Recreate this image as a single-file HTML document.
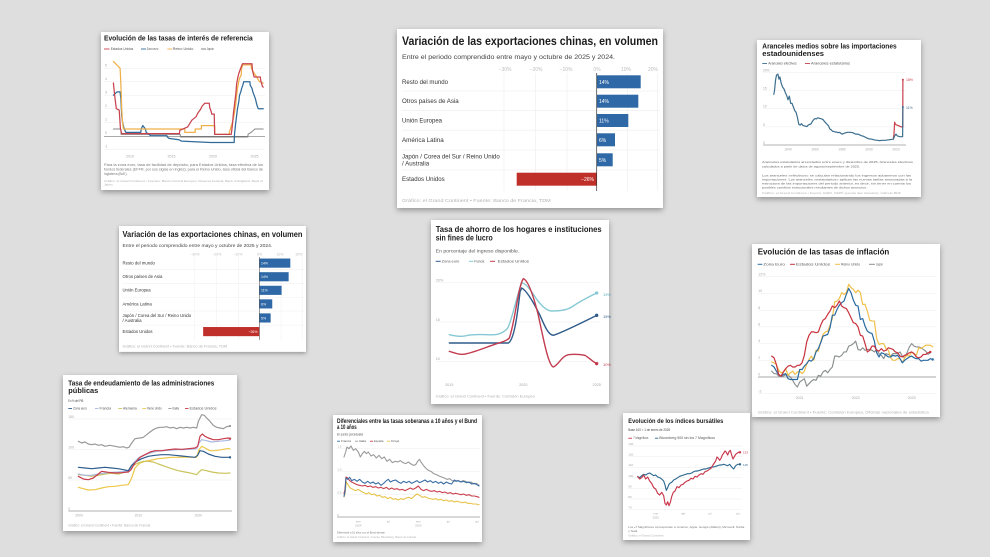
<!DOCTYPE html>
<html><head><meta charset="utf-8">
<style>
html,body{margin:0;padding:0;background:#dedede;}
svg{display:block}
text{font-family:"Liberation Sans",Arial,sans-serif}
.tt{font-weight:bold;fill:#1b1b1b}
.ax{fill:#a8a8a8}
.ft{fill:#b0b0b0}
.lg{fill:#555}
.ns{vector-effect:non-scaling-stroke;fill:none;stroke-linejoin:round;stroke-linecap:round}
.gr line{stroke:#ececec;stroke-width:0.5}
</style></head>
<body>
<svg width="990" height="557" viewBox="0 0 990 557" xmlns="http://www.w3.org/2000/svg">
<defs>
<filter id="sh" x="-10%" y="-10%" width="120%" height="125%">
<feDropShadow dx="0" dy="2.2" stdDeviation="3" flood-color="#000" flood-opacity="0.34"/>
</filter>
</defs>
<rect width="990" height="557" fill="#dedede"/>

<!-- ============ CARD 1 ============ -->
<g>
<rect x="101" y="32" width="168" height="158" fill="#fff" filter="url(#sh)"/>
<text class="tt" x="104" y="40.7" font-size="7" textLength="148.7" lengthAdjust="spacingAndGlyphs">Evolución de las tasas de interés de referencia</text>
<g font-size="3.6" class="lg">
<line x1="104" y1="49" x2="109.5" y2="49" stroke="#c9434f" stroke-width="0.9"/><text x="110.7" y="50.2" textLength="22.6" lengthAdjust="spacingAndGlyphs">Estados Unidos</text>
<line x1="141" y1="49" x2="146" y2="49" stroke="#2f6a9a" stroke-width="0.9"/><text x="146.7" y="50.2" textLength="11.6" lengthAdjust="spacingAndGlyphs">Zona euro</text>
<line x1="167.3" y1="49" x2="172" y2="49" stroke="#efb04a" stroke-width="0.9"/><text x="172.7" y="50.2" textLength="20.6" lengthAdjust="spacingAndGlyphs">Reino Unido</text>
<line x1="201" y1="49" x2="206" y2="49" stroke="#777" stroke-width="0.9"/><text x="206.7" y="50.2" textLength="7.3" lengthAdjust="spacingAndGlyphs">Japón</text>
</g>
<g class="gr">
<line x1="104" y1="68.2" x2="265" y2="68.2"/><line x1="104" y1="81.7" x2="265" y2="81.7"/><line x1="104" y1="95.2" x2="265" y2="95.2"/><line x1="104" y1="108.7" x2="265" y2="108.7"/><line x1="104" y1="122.2" x2="265" y2="122.2"/><line x1="104" y1="149.2" x2="265" y2="149.2"/>
</g>
<line x1="104" y1="136.3" x2="265" y2="136.3" stroke="#555" stroke-width="0.5"/>
<g font-size="3.5" class="ax">
<text x="105" y="66.5">5</text><text x="105" y="80">4</text><text x="105" y="93.5">3</text><text x="105" y="107">2</text><text x="105" y="120.5">1</text><text x="105" y="134">0</text><text x="104.5" y="147.5">-1</text>
</g>
<g font-size="3.6" class="ax" text-anchor="middle">
<text x="130" y="157.3">2010</text><text x="171.5" y="157.3">2015</text><text x="213" y="157.3">2020</text><text x="254.5" y="157.3">2025</text>
</g>
<g transform="matrix(8.3,0,0,-13.5,47,135.7)">
<polyline class="ns" stroke="#888" stroke-width="1" points="8.0,0.5 8.9,0.5 8.92,0.1 16.05,0.1 16.07,-0.1 24.2,-0.1 24.22,0.1 24.6,0.25 25.05,0.5 26.05,0.5"/>
<polyline class="ns" stroke="#2f6a9a" stroke-width="1.25" points="8.0,3.0 8.45,3.25 8.8,3.25 8.9,2.75 9.0,1.5 9.1,1.0 9.3,0.5 9.5,0.25 11.3,0.25 11.35,0.5 11.55,0.75 11.85,0.5 11.95,0.25 12.5,0.0 14.45,0.0 14.5,-0.1 14.7,-0.2 15.9,-0.3 16.2,-0.4 19.7,-0.5 22.55,-0.5 22.58,0.0 22.7,0.75 22.85,1.5 22.95,2.0 23.1,2.5 23.2,3.0 23.35,3.25 23.45,3.5 23.6,3.75 23.7,4.0 24.45,4.0 24.48,3.75 24.7,3.5 24.8,3.25 24.95,3.0 25.1,2.75 25.2,2.5 25.3,2.25 25.45,2.0 26.05,2.0"/>
<polyline class="ns" stroke="#efb04a" stroke-width="1.25" points="8.0,5.5 8.8,5.0 8.85,4.5 8.95,3.0 9.0,2.0 9.1,1.0 9.2,0.5 16.6,0.5 16.6,0.25 17.85,0.25 17.85,0.5 18.6,0.5 18.6,0.75 20.2,0.75 20.22,0.1 21.95,0.1 21.97,0.25 22.1,0.5 22.2,0.75 22.35,1.0 22.45,1.25 22.6,1.75 22.72,2.25 22.85,3.0 22.95,3.5 23.1,4.0 23.2,4.25 23.4,4.5 23.45,5.0 23.6,5.25 24.6,5.25 24.62,5.0 24.85,4.75 25.1,4.5 25.35,4.25 25.6,4.0 26.05,3.9"/>
<polyline class="ns" stroke="#c9434f" stroke-width="1.25" points="8.0,3.9 8.15,3.0 8.35,2.0 8.7,1.9 8.85,0.5 9.0,0.15 15.95,0.15 16.0,0.4 16.95,0.65 17.2,0.9 17.45,1.15 17.95,1.4 18.2,1.7 18.45,1.9 18.7,2.2 19.0,2.4 19.55,2.4 19.6,2.1 19.75,1.85 19.85,1.6 20.15,1.6 20.2,0.1 22.2,0.1 22.25,0.35 22.35,0.85 22.45,1.6 22.6,2.35 22.75,3.1 22.85,3.85 23.0,4.35 23.1,4.6 23.25,4.85 23.4,5.1 23.55,5.33 24.7,5.33 24.75,4.85 24.85,4.6 24.95,4.35 25.7,4.35 25.75,4.1 25.85,3.9 25.95,3.65 26.05,3.6"/>
</g>
<g font-size="3.2" fill="#777">
<text x="104" y="166" textLength="159" lengthAdjust="spacingAndGlyphs">Para la zona euro, tasa de facilidad de depósito; para Estados Unidos, tasa efectiva de los</text>
<text x="104" y="170.4" textLength="159" lengthAdjust="spacingAndGlyphs">fondos federales (EFFR, por sus siglas en inglés); para el Reino Unido, tasa oficial del Banco de</text>
<text x="104" y="174.8">Inglaterra (BoE).</text>
</g>
<g font-size="3.1" class="ft">
<text x="104" y="181.8" textLength="159" lengthAdjust="spacingAndGlyphs">Gráfico: el Grand Continent • Fuentes: Banco Central Europeo, Reserva Federal, Bank of England, Bank of</text>
<text x="104" y="185.6">Japan</text>
</g>
</g>

<!-- ============ CARD 2 ============ -->
<g>
<rect x="397" y="29" width="266" height="179" fill="#fff" filter="url(#sh)"/>
<text class="tt" x="402" y="45" font-size="12" textLength="256" lengthAdjust="spacingAndGlyphs">Variación de las exportaciones chinas, en volumen</text>
<text x="402" y="59" font-size="6.8" fill="#444" textLength="213" lengthAdjust="spacingAndGlyphs">Entre el periodo comprendido entre mayo y octubre de 2025 y 2024.</text>
<g font-size="5" fill="#bdbdbd" text-anchor="middle">
<text x="505" y="71">−30%</text><text x="536" y="71">−20%</text><text x="566" y="71">−10%</text><text x="597" y="71">0%</text><text x="626" y="71">10%</text><text x="653" y="71">20%</text>
</g>
<g stroke="#ececec" stroke-width="0.6">
<line x1="504" y1="73" x2="504" y2="191"/><line x1="535.5" y1="73" x2="535.5" y2="191"/><line x1="567" y1="73" x2="567" y2="191"/><line x1="627.5" y1="73" x2="627.5" y2="191"/><line x1="657.5" y1="73" x2="657.5" y2="191"/>
<line x1="402" y1="91" x2="660" y2="91"/><line x1="402" y1="110.7" x2="660" y2="110.7"/><line x1="402" y1="130.2" x2="660" y2="130.2"/><line x1="402" y1="150" x2="660" y2="150"/><line x1="402" y1="170" x2="660" y2="170"/>
</g>
<g fill="#2e68a6">
<rect x="596.7" y="75.3" width="44" height="13"/><rect x="596.7" y="94.7" width="41.6" height="13"/><rect x="596.7" y="114" width="31.6" height="13"/><rect x="596.7" y="133.3" width="18.3" height="13"/><rect x="596.7" y="153.3" width="16" height="13"/>
</g>
<rect x="516.7" y="172.7" width="80" height="13" fill="#c0302b"/>
<line x1="596.7" y1="73" x2="596.7" y2="191" stroke="#333" stroke-width="0.7"/>
<g font-size="5" fill="#fff">
<text x="599" y="83.8">14%</text><text x="599" y="103.2">14%</text><text x="599" y="122.5">11%</text><text x="599" y="141.8">6%</text><text x="599" y="161.8">5%</text>
<text x="594" y="181.2" text-anchor="end">−26%</text>
</g>
<g font-size="6.2" fill="#333">
<text x="402" y="83.8" textLength="46" lengthAdjust="spacingAndGlyphs">Resto del mundo</text>
<text x="402" y="103.2" textLength="56.7" lengthAdjust="spacingAndGlyphs">Otros países de Asia</text>
<text x="402" y="122.5" textLength="40" lengthAdjust="spacingAndGlyphs">Unión Europea</text>
<text x="402" y="141.8" textLength="41.7" lengthAdjust="spacingAndGlyphs">América Latina</text>
<text x="402" y="158.6" textLength="97.7" lengthAdjust="spacingAndGlyphs">Japón / Corea del Sur / Reino Unido</text>
<text x="402" y="165.6">/ Australia</text>
<text x="402" y="181.2" textLength="42.7" lengthAdjust="spacingAndGlyphs">Estados Unidos</text>
</g>
<text x="402" y="202" font-size="4.8" class="ft" textLength="148.7" lengthAdjust="spacingAndGlyphs">Gráfico: el Grand Continent • Fuente: Banco de Francia, TDM</text>
</g>

<!-- ============ CARD 4 (smaller copy) ============ -->
<g transform="translate(119,226) scale(0.703) translate(-397,-29)">
<rect x="397" y="29" width="266" height="179" fill="#fff" filter="url(#sh)"/>
<text class="tt" x="402" y="45" font-size="12" textLength="256" lengthAdjust="spacingAndGlyphs">Variación de las exportaciones chinas, en volumen</text>
<text x="402" y="59" font-size="6.8" fill="#444" textLength="213" lengthAdjust="spacingAndGlyphs">Entre el periodo comprendido entre mayo y octubre de 2025 y 2024.</text>
<g font-size="5" fill="#bdbdbd" text-anchor="middle">
<text x="505" y="71">−30%</text><text x="536" y="71">−20%</text><text x="566" y="71">−10%</text><text x="597" y="71">0%</text><text x="626" y="71">10%</text><text x="653" y="71">20%</text>
</g>
<g stroke="#ececec" stroke-width="0.6">
<line x1="504" y1="73" x2="504" y2="191"/><line x1="535.5" y1="73" x2="535.5" y2="191"/><line x1="567" y1="73" x2="567" y2="191"/><line x1="627.5" y1="73" x2="627.5" y2="191"/><line x1="657.5" y1="73" x2="657.5" y2="191"/>
<line x1="402" y1="91" x2="660" y2="91"/><line x1="402" y1="110.7" x2="660" y2="110.7"/><line x1="402" y1="130.2" x2="660" y2="130.2"/><line x1="402" y1="150" x2="660" y2="150"/><line x1="402" y1="170" x2="660" y2="170"/>
</g>
<g fill="#2e68a6">
<rect x="596.7" y="75.3" width="44" height="13"/><rect x="596.7" y="94.7" width="41.6" height="13"/><rect x="596.7" y="114" width="31.6" height="13"/><rect x="596.7" y="133.3" width="18.3" height="13"/><rect x="596.7" y="153.3" width="16" height="13"/>
</g>
<rect x="516.7" y="172.7" width="80" height="13" fill="#c0302b"/>
<line x1="596.7" y1="73" x2="596.7" y2="191" stroke="#333" stroke-width="0.7"/>
<g font-size="5" fill="#fff">
<text x="599" y="83.8">14%</text><text x="599" y="103.2">14%</text><text x="599" y="122.5">11%</text><text x="599" y="141.8">6%</text><text x="599" y="161.8">5%</text>
<text x="594" y="181.2" text-anchor="end">−26%</text>
</g>
<g font-size="6.2" fill="#333">
<text x="402" y="83.8" textLength="46" lengthAdjust="spacingAndGlyphs">Resto del mundo</text>
<text x="402" y="103.2" textLength="56.7" lengthAdjust="spacingAndGlyphs">Otros países de Asia</text>
<text x="402" y="122.5" textLength="40" lengthAdjust="spacingAndGlyphs">Unión Europea</text>
<text x="402" y="141.8" textLength="41.7" lengthAdjust="spacingAndGlyphs">América Latina</text>
<text x="402" y="158.6" textLength="97.7" lengthAdjust="spacingAndGlyphs">Japón / Corea del Sur / Reino Unido</text>
<text x="402" y="165.6">/ Australia</text>
<text x="402" y="181.2" textLength="42.7" lengthAdjust="spacingAndGlyphs">Estados Unidos</text>
</g>
<text x="402" y="202" font-size="4.8" class="ft" textLength="148.7" lengthAdjust="spacingAndGlyphs">Gráfico: el Grand Continent • Fuente: Banco de Francia, TDM</text>
</g>

<!-- ============ CARD 3 ============ -->
<g>
<rect x="757" y="40" width="164" height="157" fill="#fff" filter="url(#sh)"/>
<text class="tt" x="762.3" y="48.5" font-size="7.2" textLength="134.4" lengthAdjust="spacingAndGlyphs">Aranceles medios sobre las importaciones</text>
<text class="tt" x="762.3" y="56.2" font-size="7.2" textLength="61.7" lengthAdjust="spacingAndGlyphs">estadounidenses</text>
<g font-size="3.4" class="lg">
<line x1="762.3" y1="63.5" x2="767" y2="63.5" stroke="#3c6e8f" stroke-width="0.9"/><text x="768.3" y="64.6" textLength="28.4" lengthAdjust="spacingAndGlyphs">Aranceles efectivos</text>
<line x1="805" y1="63.5" x2="810" y2="63.5" stroke="#c8404c" stroke-width="0.9"/><text x="811" y="64.6" textLength="39" lengthAdjust="spacingAndGlyphs">Aranceles estatutarios</text>
</g>
<g class="gr">
<line x1="763" y1="72.6" x2="906" y2="72.6"/><line x1="763" y1="90.7" x2="906" y2="90.7"/><line x1="763" y1="108.8" x2="906" y2="108.8"/><line x1="763" y1="126.9" x2="906" y2="126.9"/>
</g>
<line x1="763" y1="145" x2="906" y2="145" stroke="#666" stroke-width="0.5"/>
<g font-size="3.3" class="ax">
<text x="763" y="71.5">20%</text><text x="763" y="89.6">15</text><text x="763" y="107.7">10</text><text x="763" y="125.8">5</text><text x="763" y="143.9">0</text>
</g>
<g font-size="3.3" class="ax" text-anchor="middle">
<text x="788" y="150.3">1940</text><text x="815" y="150.3">1960</text><text x="842" y="150.3">1980</text><text x="869" y="150.3">2000</text><text x="896" y="150.3">2020</text>
</g>
<g transform="matrix(1.35,0,0,-3.62,734,145)">
<polyline class="ns" stroke="#c8404c" stroke-width="1.2" points="118,1.6 118.5,3.0 119,6.3 119.5,5.8 120,5.6 122,5.3 124,5.0 125,5.0 125.1,18"/>
<polyline class="ns" stroke="#3c6e8f" stroke-width="1.2" points="29.5,14 30,15 30.8,18 31.5,19.3 32.5,19.6 33.3,18.2 34,18.8 35,17 36,16 37,15.5 38,14.5 39,13.7 40,12.5 41,13.5 42,11.5 43,11.5 44,10.5 45,9.5 46,9.0 47,7.6 48,5.7 49,5.5 50,5.9 51,5.4 52,5.3 53,5.2 54,5.1 55,5.5 56,5.7 57,5.8 58,6.5 59,7.0 60,7.3 61,7.2 62,7.5 63,7.4 64,7.3 65,7.2 66,7.0 67,6.5 68,6.1 69,5.7 70,5.3 71,4.4 72,4.2 73,3.8 74,3.7 75,3.6 76,3.6 77,3.4 78,3.5 79,3.3 80,3.0 82,3.3 84,3.5 86,3.5 88,3.4 90,3.0 92,3.0 94,2.6 96,2.4 98,2.0 100,1.7 102,1.6 104,1.4 106,1.3 108,1.2 110,1.3 112,1.3 114,1.4 116,1.5 118,1.6 119,2.5 120,3.0 121,2.5 122,2.4 123,2.3 124,2.3 124.9,2.3 125.1,10.5"/>
</g>
<circle cx="902.9" cy="79.8" r="1" fill="#c8404c"/><circle cx="902.9" cy="107" r="1" fill="#3c6e8f"/>
<text x="906" y="81" font-size="3.5" fill="#c8404c">18%</text>
<text x="906" y="109" font-size="3.5" fill="#3c6e8f">11%</text>
<g font-size="3.1" fill="#666">
<text x="762" y="163" textLength="151" lengthAdjust="spacingAndGlyphs">Aranceles estatutarios anunciados entre enero y diciembre de 2025. Aranceles efectivos</text>
<text x="762" y="167.3" textLength="98" lengthAdjust="spacingAndGlyphs">calculados a partir de datos de agosto/septiembre de 2025.</text>
<text x="762" y="176.5" textLength="149" lengthAdjust="spacingAndGlyphs">Los aranceles «efectivos» se calculan relacionando los ingresos aduaneros con las</text>
<text x="762" y="180.5" textLength="150" lengthAdjust="spacingAndGlyphs">importaciones. Los aranceles «estatutarios» aplican las nuevas tarifas anunciadas a la</text>
<text x="762" y="184.5" textLength="149" lengthAdjust="spacingAndGlyphs">estructura de las importaciones del periodo anterior, es decir, sin tener en cuenta los</text>
<text x="762" y="188.5" textLength="105" lengthAdjust="spacingAndGlyphs">posibles cambios estructurales resultantes de dichos anuncios.</text>
</g>
<text x="762" y="194" font-size="3" class="ft" textLength="139" lengthAdjust="spacingAndGlyphs">Gráfico: el Grand Continent • Fuente: ESRI, CEPII (peoria des Veredes), Cálculo BDF</text>
</g>

<!-- ============ CARD 5 ============ -->
<g>
<rect x="431" y="220" width="178" height="184" fill="#fff" filter="url(#sh)"/>
<text class="tt" x="435.7" y="232" font-size="8.5" textLength="166" lengthAdjust="spacingAndGlyphs">Tasa de ahorro de los hogares e instituciones</text>
<text class="tt" x="435.7" y="240.7" font-size="8.5" textLength="57" lengthAdjust="spacingAndGlyphs">sin fines de lucro</text>
<text x="435.7" y="252.3" font-size="4.6" fill="#555" textLength="83.6" lengthAdjust="spacingAndGlyphs">En porcentaje del ingreso disponible.</text>
<g font-size="3.8" class="lg">
<line x1="435.7" y1="261.3" x2="440.7" y2="261.3" stroke="#2f5b8a" stroke-width="1"/><text x="441.7" y="262.6" textLength="17.6" lengthAdjust="spacingAndGlyphs">Zona euro</text>
<line x1="469" y1="261.3" x2="473.3" y2="261.3" stroke="#86c9d4" stroke-width="1"/><text x="474.3" y="262.6" textLength="10" lengthAdjust="spacingAndGlyphs">Francia</text>
<line x1="490" y1="261.3" x2="495" y2="261.3" stroke="#c23b4f" stroke-width="1"/><text x="497.7" y="262.6" textLength="31.3" lengthAdjust="spacingAndGlyphs">Estados Unidos</text>
</g>
<g class="gr">
<line x1="435.7" y1="282.7" x2="600" y2="282.7"/><line x1="435.7" y1="322" x2="600" y2="322"/><line x1="435.7" y1="361.3" x2="600" y2="361.3"/>
</g>
<g font-size="3.8" class="ax">
<text x="435.7" y="281.5">20%</text><text x="435.7" y="320.8">15</text><text x="435.7" y="360.1">10</text>
</g>
<g font-size="3.8" class="ax" text-anchor="middle">
<text x="449.3" y="385.8">2015</text><text x="523.3" y="385.8">2020</text><text x="596.7" y="385.8">2025</text>
</g>
<g transform="translate(420,212) scale(0.33333)">
<path class="ns" stroke="#86c9d4" stroke-width="1.4" d="M88,368 C105,372 120,375 135,372 C155,366 175,368 200,368 C225,370 245,368 262,350 C275,330 290,250 305,213 C315,212 330,230 350,262 C365,282 380,297 395,297 C420,297 440,295 455,285 C480,268 505,255 530,243"/>
<path class="ns" stroke="#2f5b8a" stroke-width="1.4" d="M88,393 L265,393 C280,385 290,330 300,240 L305,228 C320,235 340,270 360,310 C375,345 385,368 400,370 C430,360 480,335 530,310"/>
<path class="ns" stroke="#c23b4f" stroke-width="1.4" d="M88,418 C110,425 125,430 140,425 C170,418 200,405 230,395 C250,390 262,385 268,378 C285,330 295,220 310,200 C325,205 340,250 355,310 C370,380 385,460 400,465 C415,460 425,432 445,428 C465,426 485,428 495,430 C510,440 520,450 530,455"/>
<circle cx="530" cy="310" r="5" fill="#2f5b8a"/><circle cx="530" cy="243" r="5" fill="#86c9d4"/><circle cx="530" cy="455" r="5" fill="#c23b4f"/>
</g>
<text x="603" y="296" font-size="4" fill="#5aa9b8">19%</text>
<text x="603" y="318" font-size="4" fill="#2f5b8a">15%</text>
<text x="603" y="366" font-size="4" fill="#c23b4f">10%</text>
<text x="435.7" y="397.5" font-size="3.7" class="ft" textLength="99" lengthAdjust="spacingAndGlyphs">Gráfico: el Grand Continent • Fuente: Comisión Europea</text>
</g>

<!-- ============ CARD 6 ============ -->
<g>
<rect x="752" y="244" width="188" height="173" fill="#fff" filter="url(#sh)"/>
<text class="tt" x="757.7" y="254.7" font-size="8.5" textLength="131.6" lengthAdjust="spacingAndGlyphs">Evolución de las tasas de inflación</text>
<g font-size="3.7" class="lg">
<line x1="757.7" y1="264.3" x2="762.3" y2="264.3" stroke="#2a6aa0" stroke-width="1"/><text x="763.3" y="265.6" textLength="21.7" lengthAdjust="spacingAndGlyphs">Zona Euro</text>
<line x1="790" y1="264.3" x2="795" y2="264.3" stroke="#c8323c" stroke-width="1"/><text x="796" y="265.6" textLength="34" lengthAdjust="spacingAndGlyphs">Estados Unidos</text>
<line x1="835" y1="264.3" x2="840" y2="264.3" stroke="#f0c04c" stroke-width="1"/><text x="841" y="265.6" textLength="19" lengthAdjust="spacingAndGlyphs">Reino Unido</text>
<line x1="869" y1="264.3" x2="875" y2="264.3" stroke="#8a8f8f" stroke-width="1"/><text x="876" y="265.6" textLength="7" lengthAdjust="spacingAndGlyphs">Japón</text>
</g>
<g class="gr">
<line x1="758" y1="276.8" x2="936" y2="276.8"/><line x1="758" y1="293.5" x2="936" y2="293.5"/><line x1="758" y1="310.2" x2="936" y2="310.2"/><line x1="758" y1="326.9" x2="936" y2="326.9"/><line x1="758" y1="343.6" x2="936" y2="343.6"/><line x1="758" y1="360.3" x2="936" y2="360.3"/><line x1="758" y1="393.7" x2="936" y2="393.7"/>
</g>
<line x1="758" y1="377" x2="936" y2="377" stroke="#555" stroke-width="0.5"/>
<g font-size="3.6" class="ax">
<text x="758.3" y="275.4">12%</text><text x="758.3" y="292.1">10</text><text x="758.3" y="308.8">8</text><text x="758.3" y="325.5">6</text><text x="758.3" y="342.2">4</text><text x="758.3" y="358.9">2</text><text x="758.3" y="375.6">0</text><text x="758.3" y="392.3">-2</text>
</g>
<g font-size="3.6" class="ax" text-anchor="middle">
<text x="799.7" y="399">2021</text><text x="855.7" y="399">2023</text><text x="911.7" y="399">2025</text>
</g>
<g transform="matrix(2.333,0,0,-8.35,771.7,377)">
<polyline class="ns" stroke="#8a8f8f" stroke-width="1.15" points="0,0.7 1,0.4 2,0.4 3,0.1 4,0.1 5,0.1 6,0.3 7,0.2 8,0.0 9,-0.4 10,-0.9 11,-1.2 12,-0.6 13,-0.4 14,-0.2 15,-1.1 16,-0.8 17,-0.5 18,-0.3 19,-0.4 20,0.2 21,0.1 22,0.6 23,0.8 24,0.5 25,0.9 26,1.2 27,2.5 28,2.5 29,2.4 30,2.6 31,3.0 32,3.0 33,3.7 34,3.8 35,4.0 36,4.3 37,3.3 38,3.2 39,3.5 40,3.2 41,3.3 42,3.3 43,3.2 44,3.0 45,3.3 46,2.8 47,2.6 48,2.2 49,2.8 50,2.7 51,2.5 52,2.8 53,2.8 54,2.8 55,3.0 56,2.5 57,2.3 58,2.9 59,3.6 60,4.0 61,3.7 62,3.6 63,3.6 64,3.5 65,3.3 66,3.1 67,2.7 68,2.9"/>
<polyline class="ns" stroke="#f0c04c" stroke-width="1.2" points="0,1.8 1,1.7 2,1.5 3,0.8 4,0.5 5,0.6 6,1.0 7,0.2 8,0.5 9,0.7 10,0.3 11,0.6 12,0.7 13,0.4 14,0.7 15,1.5 16,2.1 17,2.5 18,2.0 19,3.2 20,3.1 21,4.2 22,5.1 23,5.4 24,5.5 25,6.2 26,7.0 27,9.0 28,9.1 29,9.4 30,10.1 31,9.9 32,10.1 33,11.1 34,10.7 35,10.5 36,10.1 37,10.4 38,10.1 39,8.7 40,8.7 41,7.9 42,6.8 43,6.7 44,6.7 45,4.6 46,3.9 47,4.0 48,4.0 49,3.4 50,3.2 51,2.3 52,2.0 53,2.0 54,2.2 55,2.2 56,1.7 57,2.3 58,2.6 59,2.5 60,3.0 61,2.8 62,2.6 63,3.5 64,3.4 65,3.6 66,3.8 67,3.8 68,3.8 69,3.6"/>
<polyline class="ns" stroke="#2a6aa0" stroke-width="1.2" points="0,1.4 1,1.2 2,0.7 3,0.3 4,0.1 5,0.3 6,0.4 7,-0.2 8,-0.3 9,-0.3 10,-0.3 11,-0.3 12,0.9 13,0.9 14,1.3 15,1.6 16,2.0 17,1.9 18,2.2 19,3.0 20,3.4 21,4.1 22,4.9 23,5.0 24,5.1 25,5.9 26,7.4 27,7.4 28,8.1 29,8.6 30,8.9 31,9.1 32,9.9 33,10.6 34,10.1 35,9.2 36,8.6 37,8.5 38,6.9 39,7.0 40,6.1 41,5.5 42,5.3 43,5.2 44,4.3 45,2.9 46,2.4 47,2.9 48,2.8 49,2.6 50,2.4 51,2.4 52,2.6 53,2.5 54,2.6 55,2.2 56,1.7 57,2.0 58,2.2 59,2.4 60,2.5 61,2.3 62,2.2 63,2.2 64,1.9 65,2.0 66,2.0 67,2.0 68,2.2 69,2.1"/>
<polyline class="ns" stroke="#c8323c" stroke-width="1.2" points="0,2.5 1,2.3 2,1.5 3,0.3 4,0.1 5,0.6 6,1.0 7,1.3 8,1.4 9,1.2 10,1.2 11,1.4 12,1.4 13,1.7 14,2.6 15,4.2 16,5.0 17,5.4 18,5.4 19,5.3 20,5.4 21,6.2 22,6.8 23,7.0 24,7.5 25,7.9 26,8.5 27,8.3 28,8.6 29,9.1 30,8.5 31,8.3 32,8.2 33,7.7 34,7.1 35,6.5 36,6.4 37,6.0 38,5.0 39,4.9 40,4.0 41,3.0 42,3.2 43,3.7 44,3.7 45,3.2 46,3.1 47,3.4 48,3.1 49,3.2 50,3.5 51,3.4 52,3.3 53,3.0 54,2.9 55,2.5 56,2.4 57,2.6 58,2.7 59,2.9 60,3.0 61,2.8 62,2.4 63,2.3 64,2.4 65,2.7 66,2.7 67,2.9 68,3.0"/>
</g>
<circle cx="930.3" cy="352" r="1.2" fill="#c8323c"/><circle cx="932.7" cy="359.5" r="1.2" fill="#2a6aa0"/>
<text x="757.7" y="413.3" font-size="3.5" class="ft" textLength="171" lengthAdjust="spacingAndGlyphs">Gráfico: el Grand Continent • Fuente: Comisión Europea, Oficinas nacionales de estadística</text>
</g>

<!-- ============ CARD 7 ============ -->
<g>
<rect x="63" y="375" width="174" height="156" fill="#fff" filter="url(#sh)"/>
<text class="tt" x="68.3" y="385.5" font-size="7.5" textLength="146" lengthAdjust="spacingAndGlyphs">Tasa de endeudamiento de las administraciones</text>
<text class="tt" x="68.3" y="393.2" font-size="7.5" textLength="30" lengthAdjust="spacingAndGlyphs">públicas</text>
<text x="68.3" y="401.8" font-size="3.8" fill="#444" textLength="15" lengthAdjust="spacingAndGlyphs">En % del PIB</text>
<g font-size="3.3" class="lg">
<line x1="68.3" y1="408.5" x2="72" y2="408.5" stroke="#2d5d8e" stroke-width="0.9"/><text x="73" y="409.6" textLength="14" lengthAdjust="spacingAndGlyphs">Zona euro</text>
<line x1="95" y1="408.5" x2="98.5" y2="408.5" stroke="#a9b9e2" stroke-width="0.9"/><text x="99.5" y="409.6" textLength="11.5" lengthAdjust="spacingAndGlyphs">Francia</text>
<line x1="118.3" y1="408.5" x2="122" y2="408.5" stroke="#c9c35a" stroke-width="0.9"/><text x="123" y="409.6" textLength="13.7" lengthAdjust="spacingAndGlyphs">Alemania</text>
<line x1="142.3" y1="408.5" x2="146" y2="408.5" stroke="#ecc74a" stroke-width="0.9"/><text x="147" y="409.6" textLength="14.7" lengthAdjust="spacingAndGlyphs">Reino Unido</text>
<line x1="168.3" y1="408.5" x2="171.5" y2="408.5" stroke="#999" stroke-width="0.9"/><text x="172.5" y="409.6" textLength="6.5" lengthAdjust="spacingAndGlyphs">Italia</text>
<line x1="185" y1="408.5" x2="188.5" y2="408.5" stroke="#c83c4c" stroke-width="0.9"/><text x="189.5" y="409.6" textLength="27" lengthAdjust="spacingAndGlyphs">Estados Unidos</text>
</g>
<g class="gr">
<line x1="68.3" y1="419" x2="232" y2="419"/><line x1="68.3" y1="449.5" x2="232" y2="449.5"/><line x1="68.3" y1="480" x2="232" y2="480"/>
</g>
<line x1="68.3" y1="511" x2="232" y2="511" stroke="#666" stroke-width="0.5"/>
<g font-size="3.3" class="ax">
<text x="68.3" y="417.8">150</text><text x="68.3" y="448.3">100</text><text x="68.3" y="478.8">50</text><text x="68.3" y="509.8">0</text>
</g>
<g font-size="3.3" class="ax" text-anchor="middle">
<text x="79" y="516.4">2000</text><text x="138.3" y="516.4">2010</text><text x="198.3" y="516.4">2020</text>
</g>
<g transform="translate(55,368) scale(0.33333)">
<polyline class="ns" stroke="#999" stroke-width="1.2" points="70,220 80,225 90,222 100,228 110,230 120,228 130,232 140,230 150,235 165,232 180,235 195,238 205,236 215,240 222,238 230,225 240,212 255,210 265,208 275,200 285,192 295,185 305,180 315,178 325,178 335,176 345,180 355,178 365,182 375,178 385,180 395,178 405,180 415,178 425,180 430,160 440,140 448,142 455,150 465,160 475,172 485,178 495,180 505,182 515,176 525,174"/>
<polyline class="ns" stroke="#ecc74a" stroke-width="1.2" points="70,358 85,362 100,366 120,365 140,360 160,356 180,355 200,352 220,350 230,330 240,300 255,285 270,280 290,276 310,272 330,270 350,268 370,268 390,267 410,268 425,268 432,245 440,235 450,240 465,248 480,248 500,245 515,242 525,242"/>
<polyline class="ns" stroke="#c9c35a" stroke-width="1.2" points="70,320 90,322 110,325 130,322 150,318 170,316 190,318 210,312 222,308 235,292 250,285 265,280 280,280 295,282 310,288 330,295 350,302 370,308 390,312 410,316 425,320 432,312 440,305 455,308 470,312 490,315 510,316 525,315"/>
<polyline class="ns" stroke="#a9b9e2" stroke-width="1.2" points="70,318 90,322 110,322 130,318 150,315 170,313 190,312 210,310 222,308 235,285 250,270 265,262 285,255 305,250 325,248 345,247 365,245 385,245 405,244 425,242 432,225 440,215 455,218 470,222 490,220 510,218 525,216"/>
<polyline class="ns" stroke="#2d5d8e" stroke-width="1.2" points="70,298 90,300 110,302 130,300 150,298 170,300 190,302 205,305 220,308 230,292 245,280 260,272 280,265 300,262 320,260 340,260 360,262 380,264 400,266 420,268 428,262 435,248 445,250 460,258 480,265 500,268 515,268 525,268"/>
<polyline class="ns" stroke="#c83c4c" stroke-width="1.2" points="70,325 85,333 100,335 115,330 130,318 140,310 160,313 180,315 200,314 220,312 228,305 240,285 255,268 270,260 285,252 300,248 320,248 340,245 360,243 380,244 400,242 420,240 428,235 435,205 442,198 450,205 460,210 475,215 490,215 505,212 520,210 525,212"/>
<circle cx="525" cy="174" r="3.5" fill="#999"/><circle cx="525" cy="212" r="3.5" fill="#c83c4c"/><circle cx="525" cy="268" r="3.5" fill="#2d5d8e"/>
</g>
<text x="68.3" y="526.5" font-size="3.2" class="ft" textLength="82" lengthAdjust="spacingAndGlyphs">Gráfico: el Grand Continent • Fuente: Banco de Francia</text>
</g>

<!-- ============ CARD 8 ============ -->
<g>
<rect x="333" y="415" width="149" height="127" fill="#fff" filter="url(#sh)"/>
<text class="tt" x="337" y="423" font-size="6" textLength="140" lengthAdjust="spacingAndGlyphs">Diferenciales entre las tasas soberanas a 10 años y el Bund</text>
<text class="tt" x="337" y="429.2" font-size="6" textLength="19.7" lengthAdjust="spacingAndGlyphs">a 10 años</text>
<text x="337" y="435.5" font-size="3.2" fill="#555" textLength="26.3" lengthAdjust="spacingAndGlyphs">En puntos porcentuales</text>
<g font-size="3" class="lg">
<line x1="337" y1="441.2" x2="340" y2="441.2" stroke="#3a6ea5" stroke-width="0.9"/><text x="341" y="442.2" textLength="10" lengthAdjust="spacingAndGlyphs">Francia</text>
<line x1="355" y1="441.2" x2="358" y2="441.2" stroke="#9a9a9a" stroke-width="0.9"/><text x="359" y="442.2" textLength="7" lengthAdjust="spacingAndGlyphs">Italia</text>
<line x1="370" y1="441.2" x2="373" y2="441.2" stroke="#c9404e" stroke-width="0.9"/><text x="374" y="442.2" textLength="9.5" lengthAdjust="spacingAndGlyphs">España</text>
<line x1="387" y1="441.2" x2="390" y2="441.2" stroke="#e8c44c" stroke-width="0.9"/><text x="391" y="442.2" textLength="8" lengthAdjust="spacingAndGlyphs">Portugal</text>
</g>
<g class="gr">
<line x1="337" y1="448.7" x2="480" y2="448.7"/><line x1="337" y1="471.3" x2="480" y2="471.3"/><line x1="337" y1="494.3" x2="480" y2="494.3"/>
</g>
<line x1="337" y1="517" x2="480" y2="517" stroke="#666" stroke-width="0.5"/>
<g font-size="3" class="ax">
<text x="337.3" y="447.7">1.5</text><text x="337.3" y="470.3">1.0</text><text x="337.3" y="493.3">0.5</text><text x="337.3" y="516">0</text>
</g>
<g font-size="2.8" class="ax" text-anchor="middle">
<text x="358.3" y="522.5">ene</text><text x="358.3" y="526.5">2024</text><text x="388.3" y="522.5">jul</text><text x="418.3" y="522.5">ene</text><text x="418.3" y="526.5">2025</text><text x="448.3" y="522.5">jul</text><text x="476.7" y="522.5">oct</text>
</g>
<g transform="translate(325,402) scale(0.33333)">
<polyline class="ns" stroke="#9a9a9a" stroke-width="1.1" points="57,165 62,150 66,135 72,140 78,132 85,145 92,140 100,150 106,165 112,155 118,148 124,155 130,150 138,162 146,158 154,168 162,160 170,170 178,165 186,178 194,172 202,182 210,178 218,180 226,176 234,182 242,185 250,180 258,186 266,190 272,188 278,178 283,172 288,180 295,190 302,198 310,205 318,208 326,215 334,218 342,222 350,225 358,228 366,232 374,230 382,236 390,238 398,235 406,240 414,236 422,238 430,242 438,240 446,246 454,244 462,250"/>
<polyline class="ns" stroke="#e8c44c" stroke-width="1.1" points="57,285 60,275 64,240 70,250 76,258 84,262 92,266 100,262 108,268 116,272 124,276 132,272 140,278 148,276 156,282 164,280 172,286 180,284 188,290 196,286 204,292 212,290 220,294 228,290 236,292 244,288 252,286 260,290 268,282 276,276 284,280 292,286 300,284 308,288 316,290 324,292 332,290 340,294 348,292 356,296 364,294 372,298 380,296 388,300 396,298 404,300 412,302 420,300 428,304 436,304 444,306 452,306 462,308"/>
<polyline class="ns" stroke="#c9404e" stroke-width="1.1" points="57,275 60,262 63,225 68,228 74,236 80,240 88,244 96,248 104,250 112,252 120,250 128,254 136,252 144,256 152,254 160,258 168,256 176,260 184,256 192,262 200,258 208,262 216,260 224,264 232,262 240,266 248,262 256,258 264,262 272,258 280,252 288,262 296,266 304,262 312,266 320,268 328,266 336,270 344,268 352,272 360,270 368,274 376,272 384,276 392,274 400,276 408,278 416,276 424,280 432,278 440,282 448,282 456,284 462,286"/>
<polyline class="ns" stroke="#3a6ea5" stroke-width="1.1" points="57,283 60,270 63,228 68,232 74,226 80,236 88,232 96,238 104,232 112,240 120,244 128,238 136,244 144,240 152,246 160,242 168,250 176,244 184,236 190,232 196,240 204,236 212,234 220,240 228,244 236,238 244,242 252,238 260,244 268,240 276,236 284,242 292,238 300,234 308,240 316,236 324,242 332,238 340,244 348,240 356,246 364,240 372,244 380,246 388,234 394,238 400,236 408,240 416,238 424,242 432,240 440,246 448,244 456,248 462,252"/>
</g>
<text x="337" y="533.5" font-size="2.9" fill="#777" textLength="48" lengthAdjust="spacingAndGlyphs">Diferencial a 10 años con el Bund alemán</text>
<text x="337" y="537.8" font-size="2.9" class="ft" textLength="79" lengthAdjust="spacingAndGlyphs">Gráfico: el Grand Continent • Fuente: Bloomberg, Banco de Francia</text>
</g>

<!-- ============ CARD 9 ============ -->
<g>
<rect x="623" y="413" width="127" height="127" fill="#fff" filter="url(#sh)"/>
<text class="tt" x="628.3" y="423" font-size="6" textLength="95" lengthAdjust="spacingAndGlyphs">Evolución de los índices bursátiles</text>
<text x="628.3" y="430.8" font-size="3.4" fill="#444" textLength="41.7" lengthAdjust="spacingAndGlyphs">Base 100 = 1 de enero de 2025</text>
<g font-size="3.2" class="lg">
<line x1="628.3" y1="438.2" x2="632" y2="438.2" stroke="#c8364a" stroke-width="0.9"/><text x="633.3" y="439.2" textLength="15" lengthAdjust="spacingAndGlyphs">7 Magníficos</text>
<line x1="655" y1="438.2" x2="658.3" y2="438.2" stroke="#2f6a8f" stroke-width="0.9"/><text x="659.3" y="439.2" textLength="55.7" lengthAdjust="spacingAndGlyphs">Bloomberg 500 sin los 7 Magníficos</text>
</g>
<g class="gr">
<line x1="628.3" y1="446" x2="742" y2="446"/><line x1="628.3" y1="456.6" x2="742" y2="456.6"/><line x1="628.3" y1="467.2" x2="742" y2="467.2"/><line x1="628.3" y1="477.8" x2="742" y2="477.8"/><line x1="628.3" y1="488.4" x2="742" y2="488.4"/><line x1="628.3" y1="499" x2="742" y2="499"/><line x1="628.3" y1="509.6" x2="742" y2="509.6"/>
</g>
<g font-size="3" class="ax">
<text x="628.3" y="445">130</text><text x="628.3" y="455.6">120</text><text x="628.3" y="466.2">110</text><text x="628.3" y="476.8">100</text><text x="628.3" y="487.4">90</text><text x="628.3" y="498">80</text><text x="628.3" y="508.6">70</text>
</g>
<g font-size="2.9" class="ax" text-anchor="middle">
<text x="655.7" y="514.5">ene</text><text x="655.7" y="518.6">2025</text><text x="683.3" y="514.5">abr</text><text x="710" y="514.5">jul</text><text x="737.7" y="514.5">oct</text>
</g>
<g transform="translate(615,405) scale(0.33333)">
<polyline class="ns" stroke="#2f6a8f" stroke-width="1.15" points="68,215 74,218 80,212 86,208 92,210 98,206 104,204 110,208 116,212 122,210 128,216 134,218 140,222 146,228 150,240 154,256 158,248 162,238 166,234 170,232 176,225 182,222 188,218 194,214 200,212 206,210 212,208 218,206 224,206 230,204 236,200 242,198 248,198 254,196 260,194 266,192 272,192 278,190 284,188 290,186 296,186 302,184 308,182 314,180 320,180 326,178 332,180 338,182 344,178 350,186 356,192 362,182 368,178 375,178"/>
<polyline class="ns" stroke="#c8364a" stroke-width="1.15" points="68,215 74,222 80,218 86,210 92,222 98,216 104,228 110,235 116,248 122,252 128,265 134,270 140,262 146,272 150,295 154,300 158,290 162,302 166,292 170,275 175,262 180,258 186,245 192,248 198,240 204,238 210,232 216,228 222,226 228,220 234,222 240,214 246,216 252,210 258,206 264,208 270,200 276,198 282,194 288,190 294,180 298,174 302,168 306,156 310,160 314,166 318,160 322,150 326,145 330,138 334,142 338,150 342,140 346,136 350,150 354,162 358,155 362,148 366,145 370,142 375,142"/>
<circle cx="375" cy="142" r="3.5" fill="#c8364a"/><circle cx="375" cy="178" r="3.5" fill="#2f6a8f"/>
</g>
<text x="743" y="453.5" font-size="3" fill="#c8364a">133</text>
<text x="743" y="466" font-size="3" fill="#2f6a8f">115</text>
<g font-size="2.9" fill="#777">
<text x="628.3" y="528" textLength="116" lengthAdjust="spacingAndGlyphs">Los «7 Magníficos» corresponden a: Amazon, Apple, Google (Alfabet), Microsoft, Nvidia</text>
<text x="628.3" y="532">y Tesla.</text>
</g>
<text x="628.3" y="536.5" font-size="2.9" class="ft">Gráfico: el Grand Continent</text>
</g>
</svg>
</body></html>
